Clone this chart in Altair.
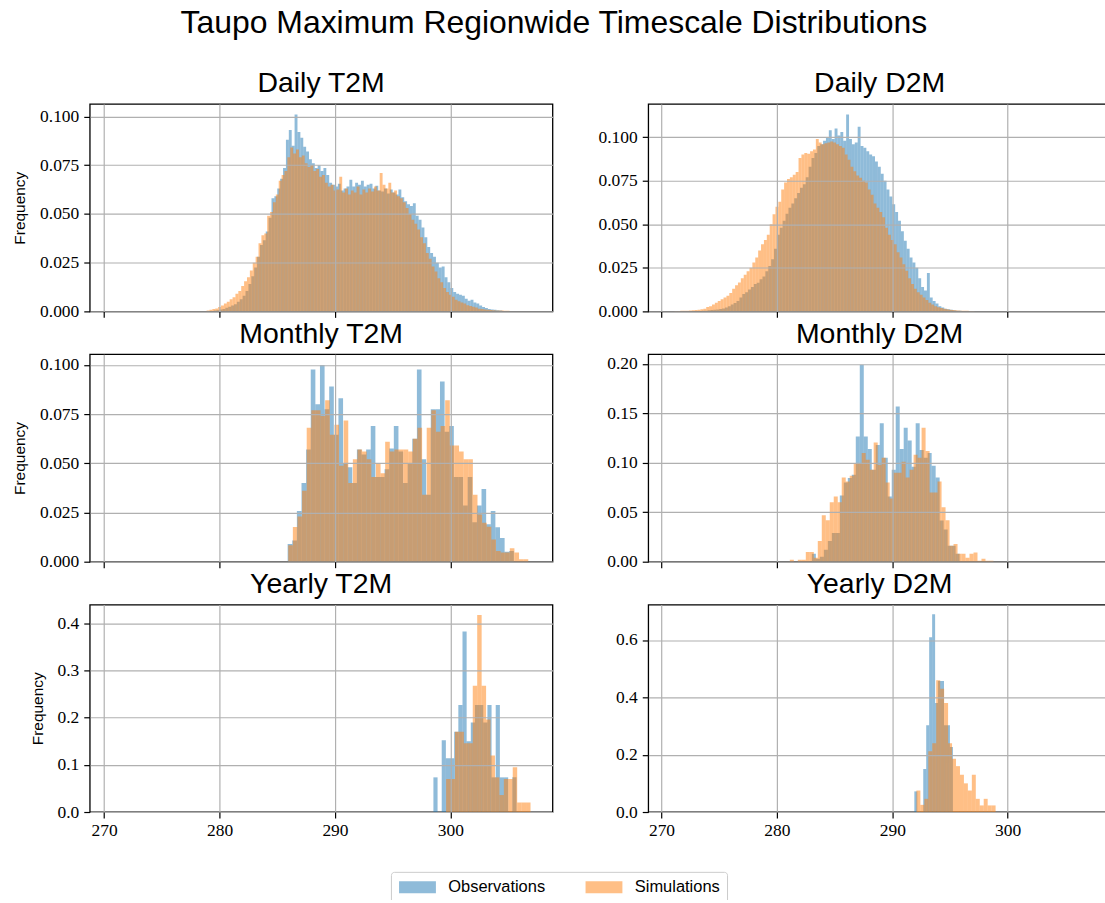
import altair as alt
import pandas as pd

# ---------------- data (density histograms) ----------------
X_TICKS = [270, 280, 290, 300]

# Daily T2M
daily_t2m_obs_start, daily_t2m_obs_width = 279.5, 0.25
daily_t2m_obs = [
    0.0004, 0.0006, 0.0010, 0.0012, 0.0018, 0.0024, 0.0030, 0.0036, 0.0050, 0.0062,
    0.0080, 0.0105, 0.0140, 0.0180, 0.0225, 0.0280, 0.0340, 0.0365, 0.0410, 0.0480,
    0.0580, 0.0590, 0.0630, 0.0680, 0.0735, 0.0880, 0.0930, 0.0850, 0.1010, 0.0920,
    0.0890, 0.0845, 0.0820, 0.0780, 0.0760, 0.0735, 0.0750, 0.0720, 0.0735, 0.0700,
    0.0660, 0.0650, 0.0640, 0.0655, 0.0620, 0.0630, 0.0640, 0.0675, 0.0640, 0.0660,
    0.0650, 0.0670, 0.0640, 0.0650, 0.0655, 0.0630, 0.0645, 0.0620, 0.0615, 0.0630,
    0.0605, 0.0625, 0.0610, 0.0600, 0.0625, 0.0585, 0.0565, 0.0550, 0.0540, 0.0555,
    0.0490, 0.0470, 0.0430, 0.0380, 0.0330, 0.0300, 0.0280, 0.0250, 0.0225, 0.0230,
    0.0175, 0.0150, 0.0120, 0.0100, 0.0090, 0.0085, 0.0080, 0.0065, 0.0055, 0.0060,
    0.0045, 0.0040, 0.0030, 0.0022, 0.0017, 0.0012, 0.0010, 0.0008, 0.0006, 0.0004,
]
daily_t2m_sim_start, daily_t2m_sim_width = 278.875, 0.25
daily_t2m_sim = [
    0.0005, 0.0008, 0.0012, 0.0015, 0.0022, 0.0030, 0.0040, 0.0050, 0.0062, 0.0072,
    0.0090, 0.0105, 0.0130, 0.0155, 0.0175, 0.0210, 0.0250, 0.0280, 0.0350, 0.0390,
    0.0400, 0.0490, 0.0510, 0.0560, 0.0600, 0.0670, 0.0700, 0.0720, 0.0790, 0.0840,
    0.0810, 0.0830, 0.0790, 0.0800, 0.0760, 0.0740, 0.0750, 0.0720, 0.0730, 0.0690,
    0.0700, 0.0660, 0.0640, 0.0650, 0.0620, 0.0625, 0.0690, 0.0610, 0.0630, 0.0600,
    0.0620, 0.0610, 0.0640, 0.0600, 0.0625, 0.0610, 0.0630, 0.0615, 0.0640, 0.0620,
    0.0710, 0.0650, 0.0630, 0.0660, 0.0610, 0.0620, 0.0590, 0.0580, 0.0560, 0.0530,
    0.0500, 0.0470, 0.0450, 0.0420, 0.0380, 0.0350, 0.0300, 0.0270, 0.0230, 0.0205,
    0.0170, 0.0150, 0.0120, 0.0100, 0.0085, 0.0075, 0.0060, 0.0052, 0.0045, 0.0040,
    0.0032, 0.0028, 0.0024, 0.0020, 0.0014, 0.0012, 0.0010, 0.0008, 0.0007, 0.0006,
    0.0005, 0.0004, 0.0004, 0.0003, 0.0003,
]

# Daily D2M
daily_d2m_obs_start, daily_d2m_obs_width = 273.5, 0.25
daily_d2m_obs = [
    0.0003, 0.0004, 0.0006, 0.0008, 0.0010, 0.0011, 0.0013, 0.0016, 0.0022, 0.0030,
    0.0040, 0.0048, 0.0060, 0.0080, 0.0100, 0.0110, 0.0125, 0.0140, 0.0157, 0.0165,
    0.0185, 0.0200, 0.0230, 0.0260, 0.0300, 0.0360, 0.0440, 0.0480, 0.0520, 0.0560,
    0.0595, 0.0620, 0.0650, 0.0680, 0.0710, 0.0730, 0.0770, 0.0830, 0.0880, 0.0910,
    0.0950, 0.0960, 0.0980, 0.1000, 0.1040, 0.0990, 0.1050, 0.1010, 0.1030, 0.0980,
    0.1130, 0.0990, 0.0960, 0.0970, 0.1060, 0.0950, 0.0940, 0.0920, 0.0900, 0.0890,
    0.0860, 0.0830, 0.0790, 0.0750, 0.0700, 0.0660, 0.0615, 0.0570, 0.0520, 0.0460,
    0.0405, 0.0360, 0.0310, 0.0280, 0.0250, 0.0190, 0.0140, 0.0120, 0.0220, 0.0080,
    0.0060, 0.0045, 0.0030, 0.0022, 0.0015, 0.0012, 0.0010, 0.0006, 0.0004, 0.0003,
]
daily_d2m_sim_start, daily_d2m_sim_width = 271.125, 0.25
daily_d2m_sim = [
    0.0002, 0.0002, 0.0003, 0.0003, 0.0004, 0.0005, 0.0006, 0.0008, 0.0010, 0.0012,
    0.0015, 0.0025, 0.0030, 0.0040, 0.0050, 0.0060, 0.0070, 0.0080, 0.0090, 0.0105,
    0.0130, 0.0150, 0.0166, 0.0190, 0.0210, 0.0230, 0.0250, 0.0280, 0.0310, 0.0350,
    0.0385, 0.0410, 0.0440, 0.0500, 0.0557, 0.0600, 0.0630, 0.0700, 0.0740, 0.0760,
    0.0770, 0.0785, 0.0800, 0.0880, 0.0900, 0.0910, 0.0905, 0.0920, 0.0930, 0.0990,
    0.0970, 0.0960, 0.0965, 0.0970, 0.0975, 0.0970, 0.0960, 0.0950, 0.0940, 0.0900,
    0.0870, 0.0830, 0.0805, 0.0780, 0.0767, 0.0750, 0.0740, 0.0700, 0.0670, 0.0620,
    0.0595, 0.0570, 0.0540, 0.0480, 0.0440, 0.0410, 0.0385, 0.0340, 0.0310, 0.0270,
    0.0233, 0.0190, 0.0157, 0.0130, 0.0110, 0.0095, 0.0080, 0.0065, 0.0050, 0.0040,
    0.0030, 0.0024, 0.0020, 0.0015, 0.0012, 0.0010, 0.0008, 0.0006, 0.0005, 0.0004,
    0.0003, 0.0003, 0.0002, 0.0002,
]

# Monthly T2M
monthly_t2m_obs_start, monthly_t2m_obs_width = 285.9, 0.4
monthly_t2m_obs = [
    0.0090, 0.0108, 0.0257, 0.0400, 0.0570, 0.0977, 0.0800, 0.1000, 0.0775, 0.0890,
    0.0645, 0.0830, 0.0500, 0.0480, 0.0400, 0.0570, 0.0545, 0.0570, 0.0690, 0.0430,
    0.0430, 0.0470, 0.0575, 0.0690, 0.0560, 0.0400, 0.0500, 0.0625, 0.0977, 0.0520,
    0.0340, 0.0775, 0.0775, 0.0915, 0.0660, 0.0690, 0.0430, 0.0430, 0.0285, 0.0430,
    0.0200, 0.0285, 0.0370, 0.0190, 0.0257, 0.0175, 0.0120, 0.0050, 0.0054,
]
monthly_t2m_sim_start, monthly_t2m_sim_width = 285.95, 0.4
monthly_t2m_sim = [
    0.0084, 0.0176, 0.0230, 0.0360, 0.0680, 0.0770, 0.0770, 0.0740, 0.0820, 0.0645,
    0.0696, 0.0488, 0.0718, 0.0400, 0.0520, 0.0570, 0.0560, 0.0520, 0.0430, 0.0500,
    0.0450, 0.0610, 0.0560, 0.0570, 0.0570, 0.0570, 0.0560, 0.0625, 0.0680, 0.0340,
    0.0680, 0.0770, 0.0660, 0.0690, 0.0820, 0.0590, 0.0590, 0.0560, 0.0520, 0.0520,
    0.0340, 0.0240, 0.0198, 0.0177, 0.0113, 0.0054, 0.0047, 0.0047, 0.0068, 0.0047,
    0.0012, 0.0012,
]

# Monthly D2M
monthly_d2m_obs_start, monthly_d2m_obs_width = 283.03, 0.346
monthly_d2m_obs = [
    0.008, 0.003, 0.005, 0.012, 0.021, 0.029, 0.029, 0.067, 0.080, 0.0846,
    0.088, 0.1265, 0.199, 0.1265, 0.114, 0.093, 0.118, 0.140, 0.105, 0.066,
    0.093, 0.157, 0.114, 0.1355, 0.1225, 0.096, 0.140, 0.113, 0.105, 0.110,
    0.097, 0.085, 0.0416, 0.0325, 0.016, 0.016, 0.008,
]
monthly_d2m_sim_start, monthly_d2m_sim_width = 281.12, 0.346
monthly_d2m_sim = [
    0.002, 0.000, 0.002, 0.002, 0.0097, 0.0097, 0.004, 0.021, 0.047, 0.042,
    0.060, 0.066, 0.060, 0.085, 0.081, 0.087, 0.0987, 0.0987, 0.110, 0.103,
    0.093, 0.1205, 0.098, 0.105, 0.080, 0.064, 0.090, 0.090, 0.101, 0.085,
    0.093, 0.108, 0.105, 0.1355, 0.112, 0.070, 0.070, 0.081, 0.055, 0.042,
    0.016, 0.018, 0.008, 0.008, 0.004, 0.008, 0.0094, 0.001, 0.003, 0.001,
    0.001,
]

# Yearly T2M
yearly_t2m_obs_start, yearly_t2m_obs_width = 298.53, 0.36
yearly_t2m_obs = [
    0.0735, 0.0, 0.152, 0.114, 0.114, 0.170, 0.227, 0.383, 0.150, 0.190,
    0.227, 0.227, 0.190, 0.227, 0.0735, 0.227, 0.0735, 0.0735, 0.0, 0.0735,
]
yearly_t2m_sim_start, yearly_t2m_sim_width = 299.63, 0.385
yearly_t2m_sim = [
    0.070, 0.070, 0.170, 0.170, 0.146, 0.146, 0.268, 0.418, 0.268, 0.196,
    0.120, 0.0735, 0.036, 0.070, 0.070, 0.095, 0.020, 0.020, 0.020,
]

# Yearly D2M
yearly_d2m_obs_start, yearly_d2m_obs_width = 291.91, 0.257
yearly_d2m_obs = [
    0.072, 0.0, 0.0, 0.150, 0.303, 0.610, 0.690, 0.380, 0.457, 0.457,
    0.303, 0.303, 0.227,
]
yearly_d2m_sim_start, yearly_d2m_sim_width = 292.09, 0.343
yearly_d2m_sim = [
    0.075, 0.025, 0.046, 0.212, 0.240, 0.460, 0.430, 0.380, 0.240, 0.186,
    0.160, 0.130, 0.100, 0.075, 0.130, 0.046, 0.023, 0.046, 0.023, 0.023,
]

SERIES = ["Observations", "Simulations"]
COLORS = ["#1f77b4", "#ff7f0e"]

# ---------------- styling ----------------
SANS = "Liberation Sans"
SERIF = "Liberation Serif"
PANEL_W, PANEL_H = 464, 208
LEFT_DOMAIN = [268.75, 308.85]
RIGHT_DOMAIN = [268.85, 308.95]

# wide flat patch (37 x 12 px) whose layout box is small, so the legend row stays short
legend = alt.Legend(
    title=None, orient="none", legendX=302, legendY=770,
    direction="horizontal", columns=2,
    symbolType="M-1,-0.85L4.2,-0.85L4.2,0.85L-1,0.85Z", symbolSize=202,
    symbolOpacity=0.5, symbolStrokeWidth=0,
    labelFont=SANS, labelFontSize=16.5, labelColor="black", labelOffset=34,
    columnPadding=39, padding=7, strokeColor="#cccccc", cornerRadius=3,
    fillColor="white",
)


def hist_frame(obs, sim):
    rows = []
    for name, (start, width, vals) in zip(SERIES, (obs, sim)):
        for i, v in enumerate(vals):
            x0 = start + i * width
            rows.append({"series": name, "x0": x0, "x1": x0 + width, "v": v, "base": 0.0})
    return pd.DataFrame(rows)


def panel(title, obs, sim, ymax, yticks, yfmt, left, bottom):
    df = hist_frame(obs, sim)
    xaxis = alt.Axis(
        values=X_TICKS, labels=bottom, grid=True, gridColor="#b0b0b0", gridWidth=1.2,
        domain=False, ticks=True, tickColor="black", tickWidth=1.2, tickSize=6,
        labelFont=SERIF, labelFontSize=17.5, labelColor="black", labelPadding=4,
        zindex=1, format="d",
    )
    yaxis = alt.Axis(
        values=yticks, format=yfmt, grid=True, gridColor="#b0b0b0", gridWidth=1.2,
        domain=False, tickColor="black", tickWidth=1.2, tickSize=6,
        labelFont=SERIF, labelFontSize=17.5, labelColor="black", labelPadding=5,
        titleFont=SANS, titleFontSize=15.5, titleFontWeight="normal", titleColor="black",
        titlePadding=12, zindex=1,
    )
    ytitle = "Frequency" if left else None
    return (
        alt.Chart(df)
        .mark_rect(opacity=0.5, clip=True)
        .encode(
            x=alt.X("x0:Q", scale=alt.Scale(domain=LEFT_DOMAIN if left else RIGHT_DOMAIN,
                                            nice=False, zero=False), axis=xaxis, title=None),
            x2="x1:Q",
            y=alt.Y("v:Q", scale=alt.Scale(domain=[0, ymax], nice=False), axis=yaxis, title=ytitle),
            y2="base:Q",
            color=alt.Color("series:N", scale=alt.Scale(domain=SERIES, range=COLORS), legend=legend),
        )
        .properties(
            width=PANEL_W,
            height=PANEL_H,
            title=alt.TitleParams(title, font=SANS, fontSize=28.5, fontWeight="normal", color="black",
                                  anchor="middle", frame="group", offset=-17, baseline="alphabetic"),
        )
    )


T3 = [0, 0.025, 0.05, 0.075, 0.1]
panels = [
    panel("Daily T2M",
          (daily_t2m_obs_start, daily_t2m_obs_width, daily_t2m_obs),
          (daily_t2m_sim_start, daily_t2m_sim_width, daily_t2m_sim),
          0.1064, T3, ".3f", True, False),
    panel("Daily D2M",
          (daily_d2m_obs_start, daily_d2m_obs_width, daily_d2m_obs),
          (daily_d2m_sim_start, daily_d2m_sim_width, daily_d2m_sim),
          0.1191, T3, ".3f", False, False),
    panel("Monthly T2M",
          (monthly_t2m_obs_start, monthly_t2m_obs_width, monthly_t2m_obs),
          (monthly_t2m_sim_start, monthly_t2m_sim_width, monthly_t2m_sim),
          0.1054, T3, ".3f", True, False),
    panel("Monthly D2M",
          (monthly_d2m_obs_start, monthly_d2m_obs_width, monthly_d2m_obs),
          (monthly_d2m_sim_start, monthly_d2m_sim_width, monthly_d2m_sim),
          0.2097, [0, 0.05, 0.1, 0.15, 0.2], ".2f", False, False),
    panel("Yearly T2M",
          (yearly_t2m_obs_start, yearly_t2m_obs_width, yearly_t2m_obs),
          (yearly_t2m_sim_start, yearly_t2m_sim_width, yearly_t2m_sim),
          0.44, [0, 0.1, 0.2, 0.3, 0.4], ".1f", True, True),
    panel("Yearly D2M",
          (yearly_d2m_obs_start, yearly_d2m_obs_width, yearly_d2m_obs),
          (yearly_d2m_sim_start, yearly_d2m_sim_width, yearly_d2m_sim),
          0.7236, [0, 0.2, 0.4, 0.6], ".1f", False, True),
]

chart = (
    alt.concat(*panels, columns=2, spacing={"row": -3, "column": 43})
    .properties(
        title=alt.TitleParams("Taupo Maximum Regionwide Timescale Distributions", font=SANS,
                              fontSize=32, fontWeight="normal", color="black", anchor="middle",
                              offset=29, dx=-8),
        padding={"left": 11, "top": 5, "right": -7, "bottom": -5},
        background="white",
    )
    .configure_view(stroke="black", strokeWidth=1.3)
)

chart.save("out.html", embed_options={"renderer": "svg", "actions": False})
